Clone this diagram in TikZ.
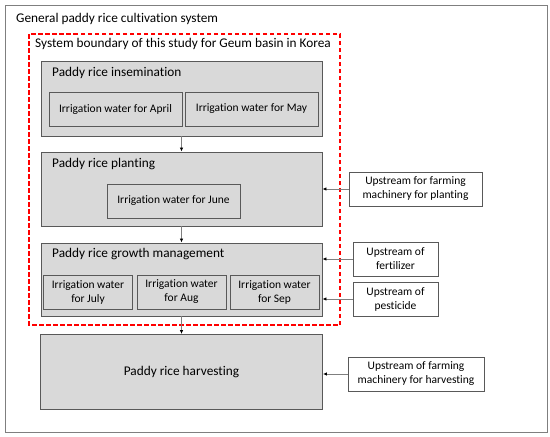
\documentclass[tikz,border=0pt]{standalone}
\usepackage{fontspec}
\setmainfont{Carlito}[Ligatures=NoCommon,RawFeature={-liga,-clig,-calt}]
\usepackage{tikz}
\usetikzlibrary{arrows.meta}
\definecolor{boxfill}{HTML}{D9D9D9}
\definecolor{boxline}{HTML}{595959}
\definecolor{flowline}{HTML}{7F7F7F}

\begin{document}
\begin{tikzpicture}[x=1pt,y=-1pt,font=\fontsize{11.5}{14}\selectfont,
  stage/.style n args={2}{draw=boxline,fill=boxfill,line width=0.9pt,minimum width=#1,minimum height=#2,inner sep=0pt,rectangle},
  input/.style n args={2}{draw=boxline,fill=white,line width=0.8pt,minimum width=#1,minimum height=#2,inner sep=0pt,align=center},
  title/.style={anchor=west,inner sep=0pt,font=\fontsize{13.3}{15}\selectfont},
  flow/.style={flowline,line width=0.8pt,-{Latex[length=4pt,width=3.5pt,black]}}]
\useasboundingbox (0,0) rectangle (550,437);
\node[draw=flowline,line width=0.9pt,minimum width=542pt,minimum height=427pt,inner sep=0pt] (general) at (276,218.5) {};
\node[title] (generaltitle) at (16,19) {General paddy rice cultivation system};
\draw[red,line width=1.6pt,dash pattern=on 4.5pt off 2.5pt] (29,34) rectangle (340,325);
\node[title] (boundarytitle) at (35,44) {System boundary of this study for Geum basin in Korea};
\node[stage={281pt}{75pt}] (insem) at (181.5,98.5) {};
\node[title] (inseminationtitle) at (52,73) {Paddy rice insemination};
\node[stage={133pt}{34pt}] (april) at (115.5,109) {Irrigation water for April};
\node[stage={133pt}{34pt}] (may) at (251.5,109) {Irrigation water for May};
\node[stage={281pt}{74pt}] (plant) at (181.5,189) {};
\node[title] (plantingtitle) at (52,164) {Paddy rice planting};
\node[stage={133pt}{34pt}] (june) at (173.5,201) {Irrigation water for June};
\node[stage={281pt}{73pt}] (growth) at (181.5,279.5) {};
\node[title] (growthtitle) at (52,254) {Paddy rice growth management};
\foreach \x/\m/\n in %
{88/July/july,181.5/Aug/aug,274.5/Sep/sep} {
   \node[stage={89pt}{34pt},align=center] (\n) at (\x,292) {Irrigation water\\for \m};
}
\node[stage={282pt}{75pt},font=\fontsize{13.3}{15}\selectfont] (harvest) at (181.5,372) {Paddy rice harvesting};
\node[input={133pt}{34pt}] (upplant) at (415.5,189) {Upstream for farming\\machinery for planting};
\node[input={85pt}{34pt}] (fertilizer) at (395.5,259) {Upstream of\\fertilizer};
\node[input={85pt}{34pt}] (pesticide) at (395.5,299) {Upstream of\\pesticide};
\node[input={136pt}{34pt}] (upharvest) at (416,374) {Upstream of farming\\machinery for harvesting};
\draw[flow] (insem) -- (plant);
\draw[flow] (plant) -- (growth);
\draw[flow] (growth) -- (harvest);
\draw[flow] (upplant) -- (plant);
\draw[flow] (fertilizer.west) -- (fertilizer.west -| growth.east);
\draw[flow] (pesticide.west) -- (pesticide.west -| growth.east);
\draw[flow] (upharvest.west) -- (upharvest.west -| harvest.east);
\end{tikzpicture}
\end{document}
